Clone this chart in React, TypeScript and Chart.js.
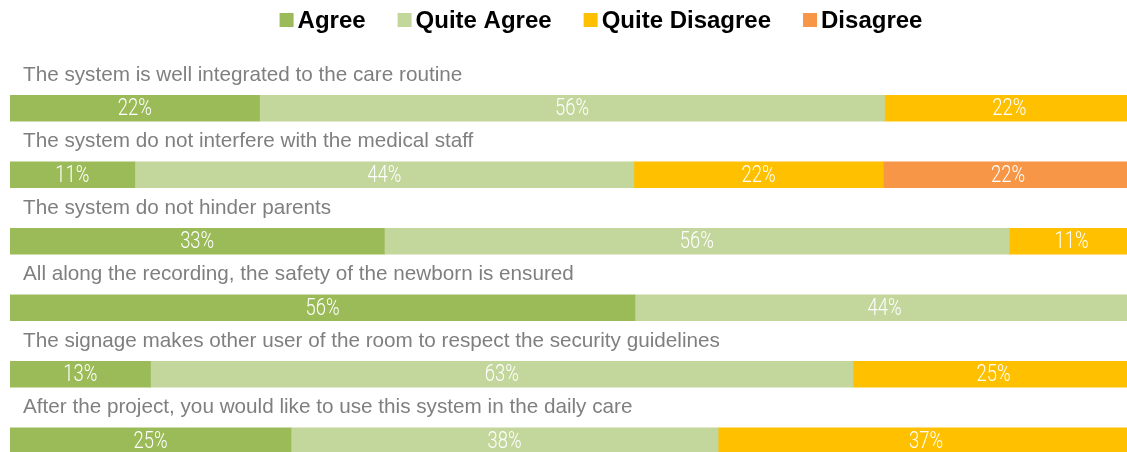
import React, { useEffect, useRef } from "react";
import { Chart, registerables } from "chart.js";

Chart.register(...registerables);

const categories = [
  "The system is well integrated to the care routine",
  "The system do not interfere with the medical staff",
  "The system do not hinder parents",
  "All along the recording, the safety of the newborn is ensured",
  "The signage makes other user of the room to respect the security guidelines",
  "After the project, you would like to use this system in the daily care",
];
const seriesNames = ["Agree", "Quite Agree", "Quite Disagree", "Disagree"];
const agree = [22.2, 11.1, 33.3, 55.6, 12.5, 25];
const quiteAgree = [55.6, 44.4, 55.6, 44.4, 62.5, 38];
const quiteDisagree = [22.2, 22.2, 11.1, 0, 25, 37];
const disagree = [0, 22.2, 0, 0, 0, 0];
const seriesValues = [agree, quiteAgree, quiteDisagree, disagree];
const colors = ["#9BBB59", "#C3D69B", "#FFC000", "#F79646"];

const LEGEND_CENTER_X = 601;
const LEGEND_Y = 20;

const titlePlugin = {
  id: "rowTitles",
  afterDatasetsDraw(chart: any) {
    const { ctx } = chart;
    const yScale = chart.scales.y;
    ctx.save();
    ctx.font = "20.7px 'Liberation Sans', Arial, sans-serif";
    ctx.fillStyle = "#7F7F7F";
    ctx.textAlign = "left";
    ctx.textBaseline = "middle";
    categories.forEach((c, i) => {
      const y = yScale.getPixelForValue(i);
      ctx.fillText(c, 23, y - 13 - 20);
    });
    ctx.restore();
  },
};

const valueLabelPlugin = {
  id: "valueLabels",
  afterDatasetsDraw(chart: any) {
    const { ctx } = chart;
    ctx.save();
    ctx.font = "300 23px Roboto, 'DejaVu Sans', sans-serif";
    ctx.fillStyle = "#FFFFFF";
    ctx.textAlign = "center";
    ctx.textBaseline = "middle";
    chart.data.datasets.forEach((ds: any, d: number) => {
      const meta = chart.getDatasetMeta(d);
      meta.data.forEach((bar: any, i: number) => {
        const v = ds.data[i];
        if (!v) return;
        const { x, base, y } = bar.getProps(["x", "base", "y"], true);
        ctx.save();
        ctx.translate((x + base) / 2, y + 1);
        ctx.scale(0.8, 1);
        ctx.fillText(`${Math.round(v)}%`, 0, 0);
        ctx.restore();
      });
    });
    ctx.restore();
  },
};

const legendPlugin = {
  id: "customLegend",
  afterDraw(chart: any) {
    const { ctx } = chart;
    ctx.save();
    ctx.font = "bold 24px 'Liberation Sans', Arial, sans-serif";
    ctx.textBaseline = "middle";
    ctx.textAlign = "left";
    const box = 14;
    const gap = 4;
    const spacing = 32;
    const widths = seriesNames.map((n) => ctx.measureText(n).width);
    const total =
      widths.reduce((a: number, b: number) => a + b, 0) +
      seriesNames.length * (box + gap) +
      (seriesNames.length - 1) * spacing;
    let x = LEGEND_CENTER_X - total / 2;
    seriesNames.forEach((n, i) => {
      ctx.fillStyle = colors[i];
      ctx.fillRect(x, LEGEND_Y - box / 2, box, box);
      x += box + gap;
      ctx.fillStyle = "#000000";
      ctx.fillText(n, x, LEGEND_Y + 1);
      x += widths[i] + spacing;
    });
    ctx.restore();
  },
};

export default function App() {
  const ref = useRef<HTMLCanvasElement>(null);
  useEffect(() => {
    const chart = new Chart(ref.current as HTMLCanvasElement, {
      type: "bar",
      data: {
        labels: categories,
        datasets: seriesNames.map((name, i) => ({
          label: name,
          data: seriesValues[i],
          backgroundColor: colors[i],
          borderWidth: 0,
          barThickness: 26,
        })),
      },
      options: {
        indexAxis: "y",
        responsive: true,
        maintainAspectRatio: false,
        animation: false,
        layout: { padding: { left: 10, right: 0, top: 75, bottom: 0 } },
        scales: {
          x: { stacked: true, min: 0, max: 100, display: false },
          y: { stacked: true, display: false },
        },
        plugins: {
          legend: { display: false },
          tooltip: { enabled: false },
        },
      },
      plugins: [titlePlugin, valueLabelPlugin, legendPlugin],
    } as any);
    return () => chart.destroy();
  }, []);
  return (
    <div
      style={{
        position: "absolute",
        left: 0,
        top: 0,
        width: 1127,
        height: 452,
        overflow: "hidden",
        background: "#FFFFFF",
      }}
    >
      <div style={{ position: "relative", width: 1134, height: 474 }}>
        <canvas ref={ref} />
      </div>
    </div>
  );
}
